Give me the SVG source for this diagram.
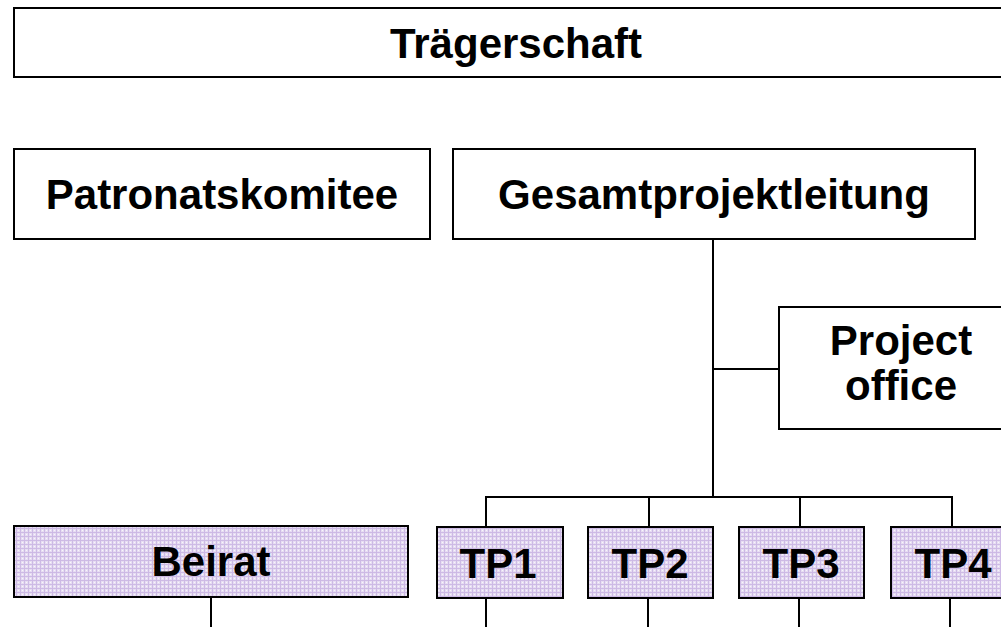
<svg xmlns="http://www.w3.org/2000/svg" width="1001" height="627" viewBox="0 0 1001 627">
  <defs>
    <pattern id="lav" width="4" height="4" patternUnits="userSpaceOnUse">
      <rect width="4" height="4" fill="#e6ddf2"/>
      <rect width="4" height="1" fill="#cdbae5"/>
      <rect width="1" height="4" fill="#cdbae5"/>
      <rect x="2" y="2" width="1" height="1" fill="#f8f5fc"/>
    </pattern>
  </defs>
  <style>
    .box { fill: #ffffff; stroke: #000000; stroke-width: 2; }
    .tp { fill: url(#lav); stroke: #000000; stroke-width: 2; }
    .lbl { font-family: "Liberation Sans", Arial, sans-serif; font-weight: bold; font-size: 42px; fill: #000000; text-anchor: middle; }
    .conn { stroke: #000000; stroke-width: 2; fill: none; }
  </style>
  <rect width="1001" height="627" fill="#ffffff"/>

  <g id="connectors">
    <line class="conn" x1="713" y1="239" x2="713" y2="497"/>
    <line class="conn" x1="713" y1="369" x2="779" y2="369"/>
    <polyline class="conn" points="486,527 486,497 952,497 952,527"/>
    <line class="conn" x1="649" y1="497" x2="649" y2="527"/>
    <line class="conn" x1="800" y1="497" x2="800" y2="527"/>
    <line class="conn" x1="211" y1="597" x2="211" y2="627"/>
    <line class="conn" x1="486" y1="598" x2="486" y2="627"/>
    <line class="conn" x1="648" y1="598" x2="648" y2="627"/>
    <line class="conn" x1="799" y1="598" x2="799" y2="627"/>
    <line class="conn" x1="950" y1="598" x2="950" y2="627"/>
  </g>

  <g id="traegerschaft">
    <rect class="box" x="14" y="8" width="1005" height="69"/>
    <text class="lbl" x="516" y="58">Trägerschaft</text>
  </g>
  <g id="patronatskomitee">
    <rect class="box" x="14" y="149" width="416" height="90"/>
    <text class="lbl" x="222" y="209">Patronatskomitee</text>
  </g>
  <g id="gesamtprojektleitung">
    <rect class="box" x="453" y="149" width="522" height="90"/>
    <text class="lbl" x="714" y="209">Gesamtprojektleitung</text>
  </g>
  <g id="projectoffice">
    <rect class="box" x="779" y="307" width="245" height="122"/>
    <text class="lbl" x="901" y="355">Project</text>
    <text class="lbl" x="901" y="400">office</text>
  </g>
  <g id="beirat">
    <rect class="tp" x="14" y="526" width="394" height="71"/>
    <text class="lbl" x="211" y="576">Beirat</text>
  </g>
  <g id="tp1">
    <rect class="tp" x="437" y="527" width="126" height="71"/>
    <text class="lbl" x="498" y="578">TP1</text>
  </g>
  <g id="tp2">
    <rect class="tp" x="588" y="527" width="125" height="71"/>
    <text class="lbl" x="650" y="578">TP2</text>
  </g>
  <g id="tp3">
    <rect class="tp" x="739" y="527" width="125" height="71"/>
    <text class="lbl" x="801" y="578">TP3</text>
  </g>
  <g id="tp4">
    <rect class="tp" x="891" y="527" width="126" height="71"/>
    <text class="lbl" x="953" y="578">TP4</text>
  </g>
</svg>
